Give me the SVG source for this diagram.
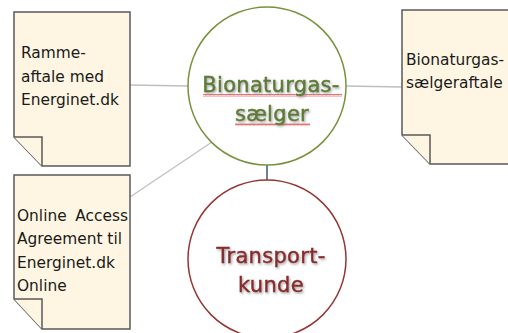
<svg xmlns="http://www.w3.org/2000/svg" width="508" height="333" viewBox="0 0 508 333">
  <defs>
    <filter id="shadow" x="-10%" y="-20%" width="130%" height="150%">
      <feDropShadow dx="1.2" dy="1.5" stdDeviation="0.8" flood-color="#7f7f7f" flood-opacity="0.7"/>
    </filter>
    <pattern id="wave" width="4" height="3" patternUnits="userSpaceOnUse">
      <path d="M0,2.5 L1,0.5 L2,2.5 L3,0.5 L4,2.5" fill="none" stroke="#e05050" stroke-width="0.8"/>
    </pattern>
  </defs>
  <style>
    .doc { fill: #FEF6E2; stroke: #595959; stroke-width: 1.5; stroke-linejoin: miter; }
    .doctext { font-family: "DejaVu Sans", Verdana, sans-serif; font-size: 15.4px; fill: #1a1a1a; }
    .conn { stroke: #BFBFBF; stroke-width: 1.3; fill: none; }
    .conn-dark { stroke: #1F3D5C; stroke-width: 1.3; fill: none; }
    .circle-green { fill: #ffffff; stroke: #76923C; stroke-width: 1.5; }
    .circle-red { fill: #ffffff; stroke: #953735; stroke-width: 1.5; }
    .big { font-family: "DejaVu Sans", Verdana, sans-serif; font-size: 21px; text-anchor: middle; filter: url(#shadow); letter-spacing: 0.3px; stroke-width: 0.45px; }
    .green { fill: #5E7B34; stroke: #5E7B34; }
    .red { fill: #8A2B2A; stroke: #8A2B2A; }
  </style>
  <rect width="508" height="333" fill="#ffffff"/>

  <g id="connectors">
    <line class="conn" x1="130" y1="85" x2="188" y2="86"/>
    <line class="conn" x1="346" y1="86" x2="402" y2="87"/>
    <line class="conn" x1="130" y1="197" x2="212" y2="142"/>
    <line class="conn-dark" x1="267" y1="165" x2="267" y2="180"/>
  </g>

  <g id="doc-ramme">
    <path class="doc" d="M14,12 H130 V166 H42 L14,137 Z"/>
    <path class="doc" d="M14,137 H42 V166"/>
    <text class="doctext" x="21" y="58">Ramme-</text>
    <text class="doctext" x="21" y="82">aftale med</text>
    <text class="doctext" x="21" y="105">Energinet.dk</text>
  </g>

  <g id="doc-online">
    <path class="doc" d="M14,175 H130 V329 H42 L14,299 Z"/>
    <path class="doc" d="M14,299 H42 V329"/>
    <text class="doctext" x="17" y="221">Online</text>
    <text class="doctext" x="128" y="221" text-anchor="end">Access</text>
    <text class="doctext" x="17" y="244">Agreement til</text>
    <text class="doctext" x="17" y="268">Energinet.dk</text>
    <text class="doctext" x="17" y="291">Online</text>
  </g>

  <g id="doc-saelgeraftale">
    <path class="doc" d="M402,10 H520 V164 H430 L402,135 Z"/>
    <path class="doc" d="M402,135 H430 V164"/>
    <text class="doctext" x="406" y="65">Bionaturgas-</text>
    <text class="doctext" x="406" y="88">sælgeraftale</text>
  </g>

  <g id="node-bionaturgassaelger">
    <circle class="circle-green" cx="267" cy="86" r="79"/>
    <rect x="203" y="94" width="139" height="3" fill="url(#wave)"/>
    <rect x="235" y="123" width="75" height="3" fill="url(#wave)"/>
    <text class="big green" x="271" y="92">Bionaturgas-</text>
    <text class="big green" x="272" y="121">sælger</text>
  </g>

  <g id="node-transportkunde">
    <circle class="circle-red" cx="267" cy="259" r="79"/>
    <text class="big red" x="271" y="263">Transport-</text>
    <text class="big red" x="271" y="292">kunde</text>
  </g>
</svg>
